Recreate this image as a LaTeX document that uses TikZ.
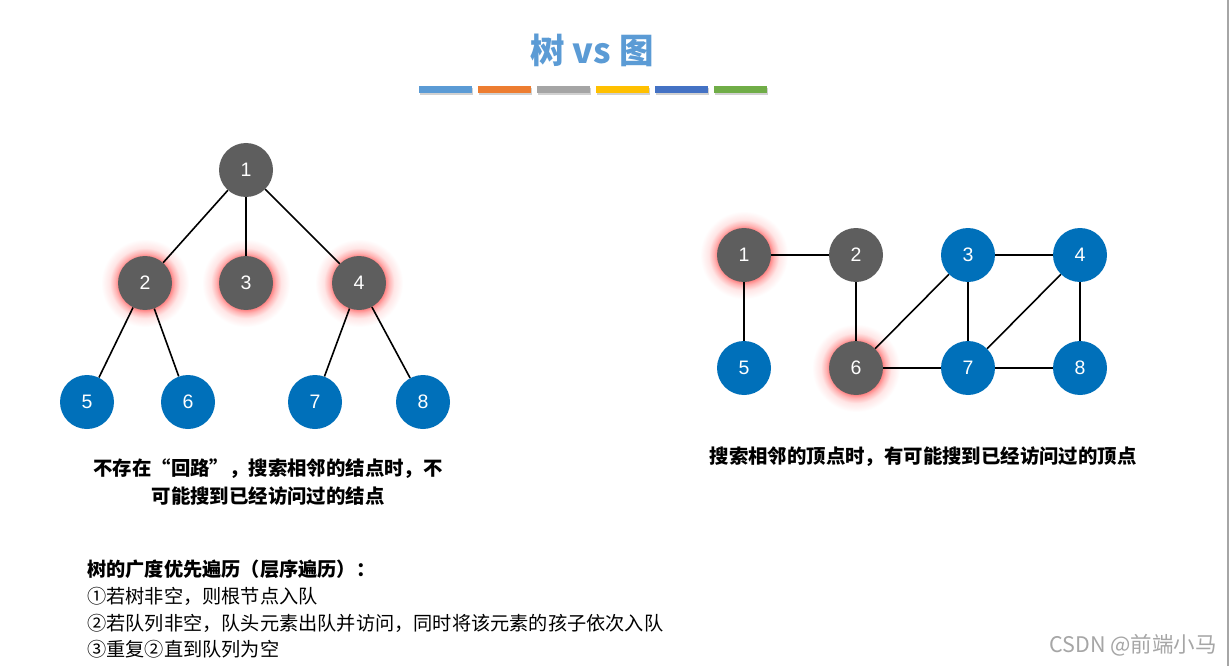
\documentclass[tikz,border=0pt]{standalone}
\usepackage{fontspec}
\setmainfont{Noto Sans CJK SC}
\newfontfamily\numfont{Liberation Sans}
\usetikzlibrary{backgrounds}

\definecolor{nodegray}{HTML}{5E5E5E}
\definecolor{nodeblue}{HTML}{0070BA}
\definecolor{titleblue}{HTML}{5B9BD5}
\definecolor{barblue}{HTML}{5B9BD5}
\definecolor{barorange}{HTML}{ED7D31}
\definecolor{bargray}{HTML}{A5A5A5}
\definecolor{baryellow}{HTML}{FFC000}
\definecolor{bardark}{HTML}{4472C4}
\definecolor{bargreen}{HTML}{70AD47}

\pgfdeclareradialshading{redglow}{\pgfpointorigin}{%
  color(0bp)=(red!50); color(15bp)=(red!50); color(17bp)=(red!30);
  color(20bp)=(red!10); color(25bp)=(white); color(50bp)=(white)}

\begin{document}
\begin{tikzpicture}[x=1pt,y=-1pt,
			vtx/.style={
				circle,
				minimum size=54pt,
				inner sep=0pt,
				text=white,
				font=\numfont\fontsize{19.5}{19.5}\selectfont
			},
			gvtx/.style={vtx,fill=nodegray},
			bvtx/.style={vtx,fill=nodeblue},
			edge/.style={line width=1.6pt,black},
			glow/.style={shading=redglow},
			note/.style={align=center,font=\bfseries\fontsize{19.4}{28}\selectfont}]
			
			\useasboundingbox (0,0) rectangle (1229,666);
			
			% title and colour bars
			\node(title) at (592,50) [text=titleblue,font=\bfseries\fontsize{34.5}{34.5}\selectfont]{树 vs 图};
			
			\foreach \c [count=\i] in {barblue,barorange,bargray,baryellow,bardark,bargreen}{
				\fill[black!18] ({420+(\i-1)*59},88) rectangle ++(53,7);
				\fill[\c] ({419+(\i-1)*59},86) rectangle ++(53,7);
			}
			
			% tree
			\node(t1)[gvtx] at (246,170){1};
			
			\node(t2)[gvtx] at (145,283){2};
			
			\node(t3)[gvtx] at (246,283){3};
			
			\node(t4)[gvtx] at (359,283){4};
			
			\node(t5)[bvtx] at (87,402){5};
			
			\node(t6)[bvtx] at (188,402){6};
			
			\node(t7)[bvtx] at (315,402){7};
			
			\node(t8)[bvtx] at (423,402){8};
			
			% graph
			\node(g1)[gvtx] at (744,255){1};
			
			\node(g2)[gvtx] at (856,255){2};
			
			\node(g3)[bvtx] at (968,255){3};
			
			\node(g4)[bvtx] at (1080,255){4};
			
			\node(g5)[bvtx] at (744,368){5};
			
			\node(g6)[gvtx] at (856,368){6};
			
			\node(g7)[bvtx] at (968,368){7};
			
			\node(g8)[bvtx] at (1080,368){8};
			
			% texts
			\node(treenote)[note] at (268,482){不存在“回路”，搜索相邻的结点时，不\\可能搜到已经访问过的结点};
			
			\node(graphnote)[note] at (923,457){搜索相邻的顶点时，有可能搜到已经访问过的顶点};
			
			\node(bfs)[anchor=north west,align=left,inner sep=0pt,font=\fontsize{19.2}{26.6}\selectfont] at (87,560){%
				\textbf{树的广度优先遍历（层序遍历）：}\\
				①若树非空，则根节点入队\\
				②若队列非空，队头元素出队并访问，同时将该元素的孩子依次入队\\
				③重复②直到队列为空};
			
			\node(mark) at (1133,645)[text=black!35,font=\fontsize{21.5}{21.5}\selectfont]{CSDN @前端小马};
			
			\begin{scope}[on background layer]
				\fill[white] (0,0) rectangle (1229,666);
				\draw[black!35,line width=1.5pt] (1228,0) -- (1228,666);
				
				\foreach \n in {t2,t3,t4,g1,g6}
					\shade[glow] (\n.center) circle[radius=44];
				
				\draw[edge](t1)--(t2);
				\draw[edge](t1)--(t3);
				\draw[edge](t1)--(t4);
				\draw[edge](t2)--(t5);
				\draw[edge](t2)--(t6);
				\draw[edge](t4)--(t7);
				\draw[edge](t4)--(t8);
				
				\draw[edge](g1)--(g2);
				\draw[edge](g1)--(g5);
				\draw[edge](g2)--(g6);
				\draw[edge](g3)--(g4);
				\draw[edge](g3)--(g6);
				\draw[edge](g3)--(g7);
				\draw[edge](g4)--(g7);
				\draw[edge](g4)--(g8);
				\draw[edge](g6)--(g7);
				\draw[edge](g7)--(g8);
			\end{scope}
			
		\end{tikzpicture}
\end{document}
